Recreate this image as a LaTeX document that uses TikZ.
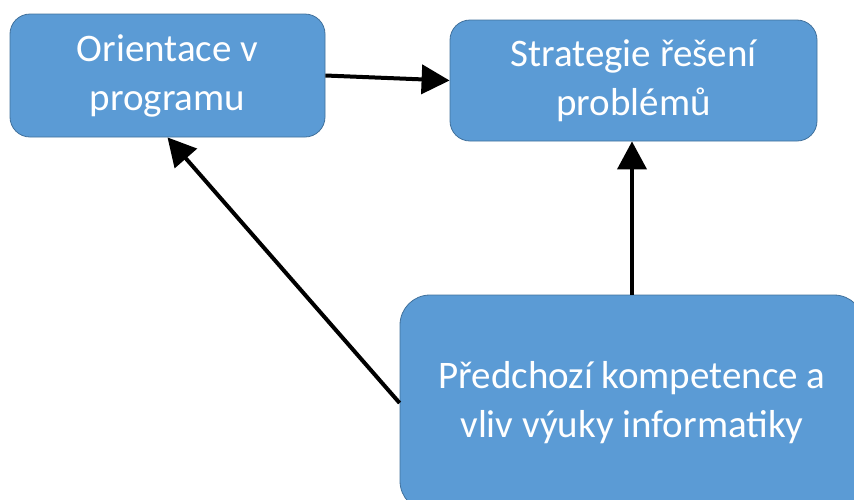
\documentclass[tikz,border=0pt]{standalone}
\usepackage{fontspec}
\setmainfont{Carlito}
\usetikzlibrary{arrows.meta}
\definecolor{boxfill}{HTML}{5B9BD5}
\definecolor{boxline}{HTML}{41719C}
\begin{document}
\begin{tikzpicture}[x=1pt,y=-1pt,
  topic/.style={draw=boxline, line width=0.8pt, fill=boxfill, text=white,
    rounded corners=20pt, align=center, inner sep=0pt,
    font=\fontsize{39}{49}\selectfont},
  link/.style={line width=4pt, -{Triangle[length=28pt,width=29pt]}}]
\useasboundingbox (0,0) rectangle (854,499);
\clip (0,0) rectangle (854,499);
% topic boxes
\node[topic, minimum width=315pt, minimum height=123pt] (orient) at (167.5,75.5)
  {Orientace v\\programu};
\node[topic, minimum width=367pt, minimum height=121pt] (strat) at (633.5,80.5)
  {Strategie řešení\\problémů};
\node[topic, rounded corners=30pt, minimum width=464pt, minimum height=216pt] (prior) at (632,403)
  {Předchozí kompetence a\\vliv výuky informatiky};
% influences
\draw[link] (orient.east) -- (strat.west);
\draw[link] (prior.north) -- (prior.north |- strat.south);
\draw[link] (prior.west) -- (orient.south);
\end{tikzpicture}
\end{document}
